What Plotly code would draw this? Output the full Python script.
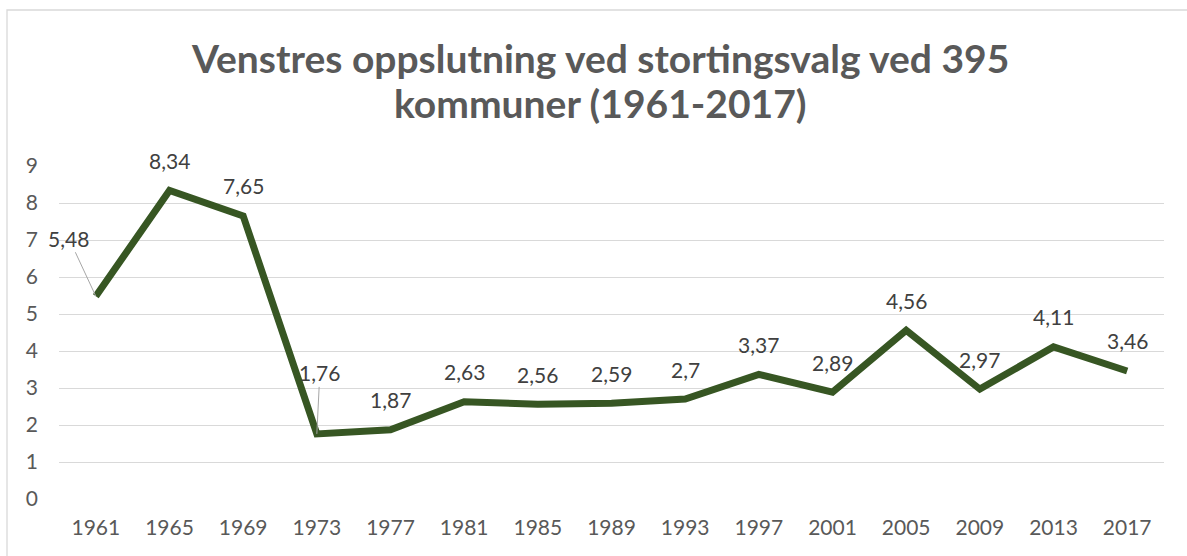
import plotly.graph_objects as go

years = ["1961", "1965", "1969", "1973", "1977", "1981", "1985", "1989",
         "1993", "1997", "2001", "2005", "2009", "2013", "2017"]
values = [5.48, 8.34, 7.65, 1.76, 1.87, 2.63, 2.56, 2.59,
          2.7, 3.37, 2.89, 4.56, 2.97, 4.11, 3.46]
labels = ["5,48", "8,34", "7,65", "1,76", "1,87", "2,63", "2,56", "2,59",
          "2,7", "3,37", "2,89", "4,56", "2,97", "4,11", "3,46"]
y_ticks = [0, 1, 2, 3, 4, 5, 6, 7, 8, 9]
title_lines = ["Venstres oppslutning ved stortingsvalg ved 395",
               "kommuner (1961-2017)"]

FONT = "Lato"
LINE_COLOR = "#375623"
TEXT_GRAY = "#595959"
LABEL_GRAY = "#404040"
GRID = "#d9d9d9"

W, H = 1187, 556
ML, MR, MT, MB = 59, 23, 166, 57
PW, PH = W - ML - MR, H - MT - MB

fig = go.Figure()
fig.add_trace(go.Scatter(
    x=years, y=values, mode="lines",
    line=dict(color=LINE_COLOR, width=7, shape="linear"),
    hoverinfo="skip", showlegend=False,
))

# label offsets (pixels) for labels moved away with leader lines
leader = {"1961": (-27, -58), "1973": (3, -61)}

annotations = []
for i, (yr, v, t) in enumerate(zip(years, values, labels)):
    if yr in leader:
        ax, ay = leader[yr]
        annotations.append(dict(
            x=i, y=v, xref="x", yref="y", text=t, showarrow=True,
            ax=ax, ay=ay, arrowhead=0, arrowwidth=1, arrowcolor="#a6a6a6",
            standoff=0, startstandoff=0,
            font=dict(family=FONT, size=21, color=LABEL_GRAY),
        ))
    else:
        annotations.append(dict(
            x=i, y=v, xref="x", yref="y", text=t, showarrow=False,
            yshift=30, font=dict(family=FONT, size=21, color=LABEL_GRAY),
        ))

# title lines (centres at y=58 and y=103 px, x=600 px)
for line, yc in zip(title_lines, [58, 103]):
    annotations.append(dict(
        text=f"<b>{line}</b>", xref="paper", yref="paper",
        x=(600 - ML) / PW, y=1 + (MT - yc) / PH,
        xanchor="center", yanchor="middle", showarrow=False,
        font=dict(family=FONT, size=39, color=TEXT_GRAY),
    ))

fig.update_layout(
    width=W, height=H,
    margin=dict(l=ML, r=MR, t=MT, b=MB),
    paper_bgcolor="white", plot_bgcolor="white",
    xaxis=dict(type="category", range=[-0.5, len(years) - 0.5],
               showgrid=False, zeroline=False, showline=False, ticks="",
               tickfont=dict(family=FONT, size=21, color=TEXT_GRAY),
               ticklabelstandoff=14, fixedrange=True),
    yaxis=dict(range=[0, 9], tickvals=y_ticks, showgrid=True, gridcolor=GRID,
               gridwidth=1.3, zeroline=False, showline=False, ticks="",
               tickfont=dict(family=FONT, size=21, color=TEXT_GRAY),
               ticklabelstandoff=20, fixedrange=True),
    annotations=annotations,
    shapes=[dict(type="rect", xref="paper", yref="paper",
                 x0=(7 - ML) / PW, x1=(W + 10 - ML) / PW,
                 y0=-(H + 10 - (H - MB)) / PH, y1=1 + (MT - 10) / PH,
                 line=dict(color=GRID, width=1.3), layer="below")],
)

fig.write_html("out.html", config={"displayModeBar": False},
               post_script="document.body.style.margin='0';document.body.style.overflow='hidden';")
